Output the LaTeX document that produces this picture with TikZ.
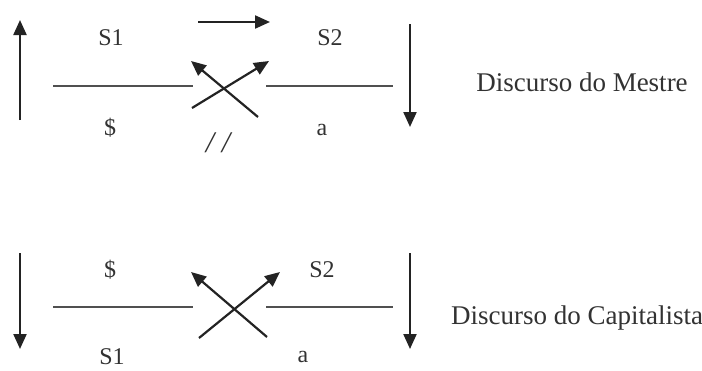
\documentclass[tikz,border=0pt]{standalone}
\usepackage{fontspec}
\setmainfont{Liberation Serif}
\usetikzlibrary{arrows.meta}

\tikzset{
  bar/.style={draw={rgb,255:red,80;green,80;blue,80}, line width=2.2pt},
  arr/.style={draw={rgb,255:red,35;green,35;blue,35}, line width=2.2pt,
    -{Triangle[length=15pt,width=13pt]}},
  lbl/.style={text={rgb,255:red,50;green,50;blue,50}, font=\fontsize{24}{24}\selectfont, inner sep=0pt},
  title/.style={text={rgb,255:red,50;green,50;blue,50}, font=\fontsize{27}{27}\selectfont, inner sep=0pt}
}

\begin{document}
\begin{tikzpicture}[x=1pt,y=1pt,yscale=-1,xscale=1]
\useasboundingbox (0,0) rectangle (702,370);
%Discurso do Mestre
% Text Node
\node [lbl] (ms1) at (111,38) {S1};
\node [lbl] (ms2) at (330,38) {S2};
\node [lbl] (mbs) at (110,128) {\$};
\node [lbl] (ma) at (322,130) {a};
\node [lbl, font=\fontsize{30}{30}\selectfont] (mimp) at (218,143) {\itshape / /};
\node [title] (mname) at (582,82) {Discurso do Mestre};
%Straight Lines
\coordinate (mlA) at (53,86);  \coordinate (mlB) at (193,86);
\coordinate (mrA) at (266,86); \coordinate (mrB) at (393,86);
\draw [bar] (mlA) -- (mlB);
\draw [bar] (mrA) -- (mrB);
%Arrows
\coordinate (mup0) at (20,120);  \coordinate (mup1) at (20,20);
\coordinate (mdn0) at (410,24);  \coordinate (mdn1) at (410,127);
\coordinate (mtp0) at (198,22);  \coordinate (mtp1) at (270,22);
\coordinate (mx10) at (192,108); \coordinate (mx11) at (269,61);
\coordinate (mx20) at (258,117); \coordinate (mx21) at (191,61);
\draw [arr] (mup0) -- (mup1);
\draw [arr] (mdn0) -- (mdn1);
\draw [arr] (mtp0) -- (mtp1);
\draw [arr] (mx10) -- (mx11);
\draw [arr] (mx20) -- (mx21);

%Discurso do Capitalista
% Text Node
\node [lbl] (cbs) at (110,270) {\$};
\node [lbl] (cs2) at (322,270) {S2};
\node [lbl] (cs1) at (112,357) {S1};
\node [lbl] (ca) at (303,357) {a};
\node [title] (cname) at (577,318) {Discurso do Capitalista};
%Straight Lines
\coordinate (clA) at (53,307);  \coordinate (clB) at (193,307);
\coordinate (crA) at (266,307); \coordinate (crB) at (393,307);
\draw [bar] (clA) -- (clB);
\draw [bar] (crA) -- (crB);
%Arrows
\coordinate (cdl0) at (20,253);  \coordinate (cdl1) at (20,349);
\coordinate (cdr0) at (410,253); \coordinate (cdr1) at (410,349);
\coordinate (cx10) at (199,338); \coordinate (cx11) at (280,272);
\coordinate (cx20) at (267,337); \coordinate (cx21) at (191,272);
\draw [arr] (cdl0) -- (cdl1);
\draw [arr] (cdr0) -- (cdr1);
\draw [arr] (cx10) -- (cx11);
\draw [arr] (cx20) -- (cx21);
\end{tikzpicture}
\end{document}
